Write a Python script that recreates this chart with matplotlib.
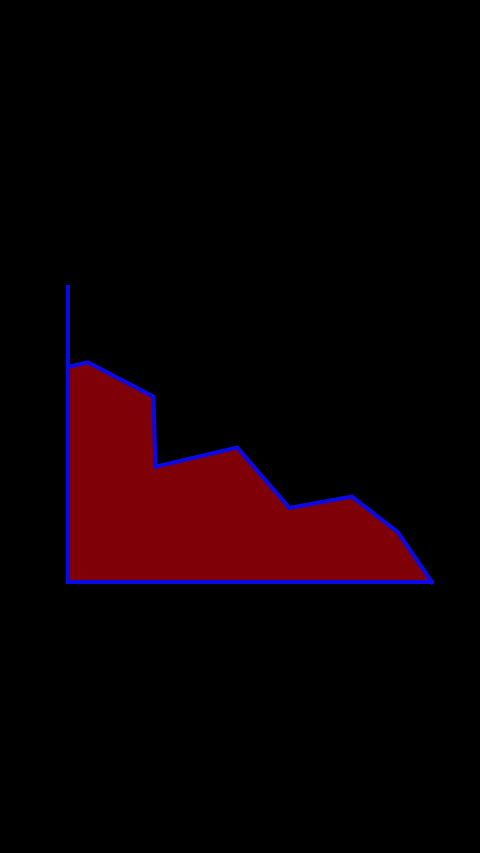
import matplotlib
matplotlib.use("Agg")
import matplotlib.pyplot as plt

# Area profile (x as percent of axis width, y as percent of axis height)
X_VALUES = [0, 5.5, 23.5, 24.0, 46.5, 60.8, 78.0, 90.6, 100]
Y_VALUES = [72.9, 74.4, 62.8, 39.1, 45.6, 25.2, 29.0, 17.0, 0]

FILL_COLOR = "#800008"
LINE_COLOR = "#0a0ae6"

fig = plt.figure(figsize=(4.8, 8.535), dpi=100, facecolor="black")
ax = fig.add_axes([68 / 480, (853 - 582.5) / 853, 364 / 480, 295.5 / 853])
ax.set_facecolor("black")

ax.fill_between(X_VALUES, Y_VALUES, 0, color=FILL_COLOR, linewidth=0)
ax.plot(X_VALUES, Y_VALUES, color=LINE_COLOR, linewidth=2.9,
        solid_joinstyle="miter", clip_on=False)

ax.set_xlim(0, 100)
ax.set_ylim(0, 100)
for side in ("top", "right"):
    ax.spines[side].set_visible(False)
for side in ("left", "bottom"):
    ax.spines[side].set_color(LINE_COLOR)
    ax.spines[side].set_linewidth(2.9)
ax.set_xticks([])
ax.set_yticks([])

fig.savefig("out.png", dpi=100, facecolor="black")
